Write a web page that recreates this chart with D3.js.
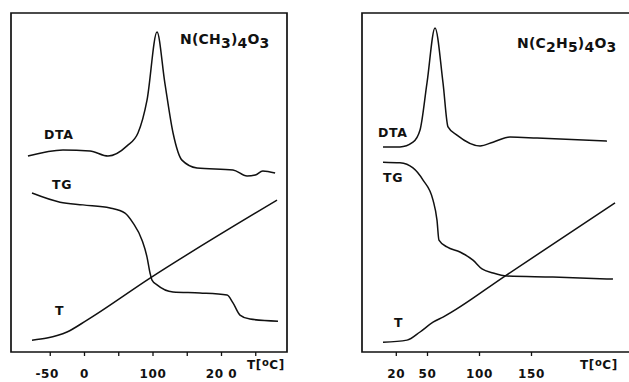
<!DOCTYPE html>
<html><head><meta charset="utf-8">
<script src="https://cdn.jsdelivr.net/npm/d3@7"></script>
<style>
html,body{margin:0;padding:0;background:#fff;}
svg text{font-family:"DejaVu Sans",Verdana,sans-serif !important;font-weight:700 !important;fill:#111;}
</style></head>
<body>
<svg id="c" width="629" height="382"></svg>
<script>
// ---- Data (temperature °C, signal in arbitrary units 0-100) ----
const leftDTA_T = [-81.8,-30.7,8.8,35,62.8,78.8,92,106.6,118,130,143,165,217.5,238,250,261,279];
const leftDTA_V = [57.8,59.6,59.3,57.8,60.8,64.6,74.3,94.4,79.4,64.6,56.6,54.3,53.7,51.9,52.2,53.4,52.8];
const leftTG_T = [-75.9,-35,-1.5,38,59.9,71.5,84.7,92,96.4,99.3,106.6,130,169.3,208.8,217.5,227.7,242.3,283.2];
const leftTG_V = [46.9,44.2,43.4,42.5,41.0,38.1,33.0,28.0,23.3,21.2,19.8,17.7,17.4,16.8,14.5,10.9,9.7,9.1];
const leftT_T = [-75.9,-54,-24.8,4.4,96.4,281.8];
const leftT_V = [3.5,4.1,5.9,9.4,21.8,44.8];
const leftTicks = [-50,0,50,100,150,200,250];
const leftTickLabels = {"-50":"-50","0":"0","100":"100","200":"20 0"};

const rightDTA_T = [7.7,24,36.5,43.3,50,57.7,65.4,70.2,78.8,101,113.5,129.8,155.8,223];
const rightDTA_V = [60.5,60.5,61.9,65.5,79.4,95.6,79.4,66.4,64.0,60.8,61.9,63.4,63.1,62.2];
const rightTG_T = [7.7,24,36.5,46.2,55.8,59.6,61.5,69.2,81.7,94.2,102.9,113.5,127,171,228.8];
const rightTG_V = [56.0,55.8,54.3,50.7,44.8,38.9,33.0,31.0,29.5,27.1,24.5,23.3,22.4,22.1,21.5];
const rightT_T = [7.7,30.8,43.3,55.8,65.4,125,230.8];
const rightT_V = [2.9,3.5,5.9,8.8,10.3,22.4,44.0];
const rightTicks = [20,50,100,150];
const rightTickLabels = {"20":"20","50":"50","100":"100","150":"150"};

const svg = d3.select("#c");
const ink = "#111";
const y = d3.scaleLinear().domain([0,100]).range([352,13]);

function zip(a,b){return a.map((t,i)=>[t,b[i]]);}

function panel(x, frame, series, ticks, tickLabels, labels, title, axisLabelX){
  const g = svg.append("g");
  const p = d3.path();
  if(frame.right!==null){
    p.moveTo(frame.left,frame.top); p.lineTo(frame.right,frame.top);
    p.lineTo(frame.right,frame.bottom); p.lineTo(frame.left,frame.bottom); p.closePath();
  } else {
    p.moveTo(629,frame.top); p.lineTo(frame.left,frame.top);
    p.lineTo(frame.left,frame.bottom); p.lineTo(629,frame.bottom);
  }
  g.append("path").attr("d",p.toString()).attr("fill","none").attr("stroke",ink).attr("stroke-width",1.7);
  const ax = d3.axisBottom(x).tickValues(ticks).tickSize(4).tickFormat(d=>tickLabels[String(d)]||"");
  const axg = g.append("g").attr("transform",`translate(0,${frame.bottom})`).call(ax);
  axg.select(".domain").remove();
  axg.selectAll(".tick line").attr("stroke",ink).attr("stroke-width",1.3);
  axg.selectAll(".tick text").attr("y",17).attr("font-size",12).attr("letter-spacing",0.6)
     .attr("fill",ink).attr("dx",d=>d<0?-3:0);
  const line = d3.line().x(d=>x(d[0])).y(d=>y(d[1])).curve(d3.curveMonotoneX);
  series.forEach(s=>{
    g.append("path").attr("d",line(s)).attr("fill","none").attr("stroke",ink).attr("stroke-width",1.5);
  });
  labels.forEach(l=>{
    g.append("text").attr("x",l[0]).attr("y",l[1]).attr("font-size",12.5).attr("letter-spacing",0.6).text(l[2]);
  });
  const t = g.append("text").attr("x",title.x).attr("y",title.y).attr("font-size",14).attr("letter-spacing",0.2);
  title.parts.forEach(pt=>{
    t.append("tspan").attr("dy",pt[1]).text(pt[0]);
  });
  const u = g.append("text").attr("x",axisLabelX).attr("y",frame.bottom+17).attr("font-size",12).attr("letter-spacing",0.6);
  u.append("tspan").text("T[");
  u.append("tspan").attr("font-size",10).attr("dy",-3).text("o");
  u.append("tspan").attr("dy",3).text("C]");
}

const xL = d3.scaleLinear().domain([-50,200]).range([49.75,221]);
panel(xL,{left:11,right:287,top:13,bottom:352},
  [zip(leftDTA_T,leftDTA_V),zip(leftTG_T,leftTG_V),zip(leftT_T,leftT_V)],
  leftTicks,leftTickLabels,
  [[44,139,"DTA"],[52,189,"TG"],[55,315,"T"]],
  {x:180,y:44,parts:[["N(CH",0],["3",4],[")",-4],["4",4],["O",-4],["3",4]]},
  247);

const xR = d3.scaleLinear().domain([50,150]).range([427,531]);
panel(xR,{left:362,right:null,top:13,bottom:352},
  [zip(rightDTA_T,rightDTA_V),zip(rightTG_T,rightTG_V),zip(rightT_T,rightT_V)],
  rightTicks,rightTickLabels,
  [[378,137,"DTA"],[383,182,"TG"],[394,327,"T"]],
  {x:517,y:48,parts:[["N(C",0],["2",4],["H",-4],["5",4],[")",-4],["4",4],["O",-4],["3",4]]},
  580);
</script>
</body></html>
